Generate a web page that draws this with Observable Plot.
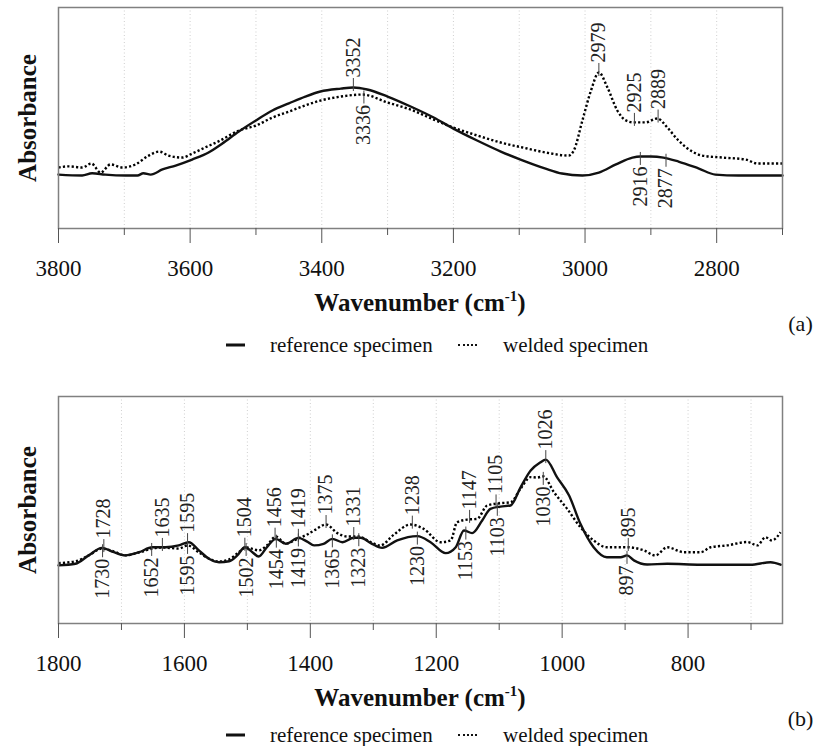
<!DOCTYPE html>
<html><head><meta charset="utf-8">
<script src="https://cdn.jsdelivr.net/npm/d3@7"></script>
<script src="https://cdn.jsdelivr.net/npm/@observablehq/plot@0.6"></script>
<style>
html,body{margin:0;padding:0;background:#fff;overflow:hidden}
body{width:818px;height:746px;font-family:'Liberation Serif','Tinos','Times New Roman','DejaVu Serif',serif;color:#111}
svg{display:block}
.legend{position:relative;white-space:nowrap;font-size:21px;color:#111;overflow:visible}
.legend span{position:absolute;top:50%;transform:translateY(-50%)}
.sw-solid{height:0;border-top:3px solid #111}
.sw-dot{height:0;border-top:2px dotted #111}
</style></head><body><div id="chart"></div>
<script>
// ---- Panel (a): 3800–2700 cm-1 ----
const wnRefA = [3800,3764,3749,3729,3698,3680,3671,3660,3642,3622,3597,3572,3551,3526,3500,3475,3450,3425,3402,3371,3352,3331,3300,3265,3230,3200,3164,3128,3098,3060,3035,3004,2979,2953,2928,2916,2900,2881,2858,2827,2802,2767,2700];
const absRefA = [0.244,0.240,0.250,0.244,0.240,0.240,0.250,0.244,0.267,0.285,0.312,0.344,0.385,0.439,0.489,0.534,0.566,0.597,0.620,0.633,0.638,0.629,0.597,0.552,0.502,0.452,0.398,0.348,0.312,0.271,0.249,0.240,0.253,0.290,0.321,0.326,0.326,0.321,0.303,0.271,0.244,0.240,0.240];
const wnWeldA = [3800,3785,3764,3750,3736,3721,3703,3683,3663,3647,3633,3612,3597,3577,3557,3526,3500,3475,3450,3425,3402,3371,3338,3300,3265,3230,3200,3164,3128,3088,3060,3025,3017,3004,2991,2979,2966,2951,2938,2926,2908,2890,2875,2858,2837,2822,2791,2756,2738,2700];
const absWeldA = [0.276,0.281,0.276,0.294,0.253,0.290,0.276,0.290,0.330,0.348,0.330,0.321,0.339,0.367,0.394,0.443,0.466,0.502,0.529,0.557,0.579,0.597,0.606,0.570,0.538,0.493,0.457,0.421,0.389,0.362,0.344,0.330,0.353,0.489,0.624,0.706,0.638,0.534,0.489,0.480,0.480,0.498,0.457,0.398,0.348,0.330,0.321,0.312,0.294,0.294];
const peakWnA = [3352,3336,2979,2925,2889,2916,2877];
const peakSeriesA = ["ref","weld","weld","weld","weld","ref","ref"];
const peakSideA = ["above","below","above","above","above","below","below"];
const majorTicksA = [3800,3600,3400,3200,3000,2800];
const minorTicksA = [3700,3500,3300,3100,2900,2700];
const gridA = [3700,3600,3500,3400,3300,3200,3100,3000,2900,2800];

// ---- Panel (b): 1800–650 cm-1 ----
const wnRefB = [1800,1773,1752,1731,1712,1694,1672,1651,1630,1609,1593,1577,1561,1545,1529,1516,1504,1492,1482,1469,1455,1439,1419,1405,1394,1379,1365,1349,1331,1320,1304,1286,1262,1230,1209,1185,1169,1156,1143,1127,1114,1098,1082,1066,1050,1035,1026,1008,989,971,950,929,907,897,886,865,833,780,701,669,653];
const absRefB = [0.256,0.263,0.300,0.333,0.314,0.300,0.314,0.336,0.336,0.344,0.358,0.322,0.285,0.270,0.274,0.300,0.336,0.314,0.295,0.336,0.373,0.351,0.377,0.361,0.344,0.351,0.373,0.358,0.378,0.378,0.354,0.333,0.366,0.385,0.358,0.310,0.336,0.410,0.398,0.454,0.505,0.515,0.520,0.600,0.674,0.709,0.722,0.644,0.564,0.439,0.336,0.292,0.292,0.300,0.278,0.260,0.263,0.259,0.259,0.270,0.259];
const wnWeldB = [1800,1773,1752,1731,1712,1694,1672,1651,1635,1609,1595,1577,1561,1545,1529,1516,1502,1492,1482,1469,1455,1439,1420,1405,1394,1375,1357,1341,1323,1304,1289,1267,1241,1220,1193,1177,1167,1150,1135,1119,1098,1082,1066,1050,1040,1030,1013,992,971,950,929,897,870,852,833,807,780,764,738,706,690,677,667,653];
const absWeldB = [0.266,0.274,0.300,0.330,0.317,0.300,0.313,0.330,0.335,0.330,0.344,0.313,0.286,0.273,0.282,0.308,0.335,0.329,0.322,0.344,0.383,0.352,0.374,0.392,0.410,0.436,0.398,0.383,0.383,0.358,0.344,0.392,0.436,0.417,0.358,0.366,0.446,0.458,0.461,0.520,0.530,0.534,0.594,0.645,0.643,0.648,0.578,0.505,0.424,0.366,0.336,0.336,0.322,0.300,0.336,0.314,0.314,0.336,0.344,0.359,0.344,0.380,0.366,0.402];
const peakWnB = [1728,1635,1595,1504,1456,1419,1375,1331,1238,1147,1105,1026,895,1730,1652,1595,1502,1454,1419,1365,1323,1230,1153,1103,1030,897];
const peakSeriesB = ["ref","weld","ref","ref","weld","weld","weld","weld","weld","weld","weld","ref","weld","weld","ref","weld","weld","ref","ref","ref","ref","ref","ref","ref","weld","ref"];
const peakSideB = ["above","above","above","above","above","above","above","above","above","above","above","above","above","below","below","below","below","below","below","below","below","below","below","below","below","below"];
const majorTicksB = [1800,1600,1400,1200,1000,800];
const minorTicksB = [1700,1500,1300,1100,900,700];
const gridB = [1700,1600,1500,1400,1300,1200,1100,1000,900,800,700];

const seriesNames = ["reference specimen", "welded specimen"];
const FONT = "'Liberation Serif','Tinos','Times New Roman','DejaVu Serif',serif";

function interp(W, A, x) {
  for (let i = 0; i < W.length - 1; i++) {
    if ((W[i] - x) * (W[i + 1] - x) <= 0) {
      const t = (x - W[i]) / (W[i + 1] - W[i]);
      return A[i] + t * (A[i + 1] - A[i]);
    }
  }
  return A[A.length - 1];
}

function panel(o) {
  const ref = o.refW.map((w, i) => ({w, a: o.refA[i]}));
  const wld = o.wldW.map((w, i) => ({w, a: o.wldA[i]}));
  const px = 1 / o.innerH;
  const pk = o.pw.map((w, i) => {
    const a = o.ps[i] === "ref" ? interp(o.refW, o.refA, w) : interp(o.wldW, o.wldA, w);
    const up = o.side[i] === "above";
    return {w, a, up, y1: a + (up ? -4 : 4) * px, y2: a + (up ? 9 : -9) * px, label: String(w)};
  });
  const marginBottom = o.height - o.marginTop - o.innerH;
  const svg = Plot.plot({
    width: 818, height: o.height, marginTop: o.marginTop, marginBottom,
    marginLeft: 58, marginRight: 36,
    x: {domain: o.domain, axis: null, label: null},
    y: {domain: [0, 1], axis: null, label: null},
    style: {fontFamily: FONT, background: "#fff", overflow: "visible", color: "#111"},
    marks: [
      Plot.gridX(o.grid, {stroke: "#cfcfcf", strokeOpacity: 1, strokeWidth: 1, strokeDasharray: "1,2.5"}),
      Plot.line(wld, {x: "w", y: "a", stroke: "#000", strokeWidth: 2.4, strokeDasharray: "2.2,2.2", strokeLinecap: "butt", curve: "monotone-x"}),
      Plot.line(ref, {x: "w", y: "a", stroke: "#111", strokeWidth: 2.4, curve: "monotone-x"}),
      Plot.ruleX(pk, {x: "w", y1: "y1", y2: "y2", stroke: "#444", strokeWidth: 1}),
      Plot.text(pk.filter(d => d.up), {x: "w", y: "a", text: "label", rotate: -90, textAnchor: "start", lineAnchor: "middle", dy: -10, fontSize: 20, fill: "#222", fontFamily: FONT}),
      Plot.text(pk.filter(d => !d.up), {x: "w", y: "a", text: "label", rotate: -90, textAnchor: "end", lineAnchor: "middle", dy: 10, fontSize: 20, fill: "#222", fontFamily: FONT}),
      Plot.frame({stroke: "#808080", strokeWidth: 1.5}),
      Plot.axisX(o.major, {tickSize: 15, tickPadding: 16, fontSize: 23, stroke: "#555", fill: "#111", label: null, fontFamily: FONT, tickFormat: d => String(d)}),
      Plot.axisX(o.minor, {tickSize: 7, stroke: "#555", label: null, tickFormat: () => ""}),
      Plot.text(["Absorbance"], {frameAnchor: "left", dx: -31, rotate: -90, textAnchor: "middle", lineAnchor: "middle", fontSize: 25, fontWeight: "bold", fill: "#111", fontFamily: FONT}),
      Plot.text([o.tag], {frameAnchor: "bottom-right", dx: 18, dy: 95, textAnchor: "middle", lineAnchor: "middle", fontSize: 22, fill: "#111", fontFamily: FONT})
    ]
  });
  const t = d3.select(svg).append("text")
    .attr("x", 420).attr("y", o.marginTop + o.innerH + 83)
    .attr("text-anchor", "middle").attr("font-size", 25).attr("font-weight", "bold")
    .style("font-family", FONT).attr("fill", "#111");
  t.append("tspan").text("Wavenumber (cm");
  t.append("tspan").attr("font-size", 15).attr("dy", -10).text("-1");
  t.append("tspan").attr("dy", 10).text(")");
  return svg;
}

function legend(h) {
  const div = document.createElement("div");
  div.className = "legend";
  div.style.height = h + "px";
  div.innerHTML =
    `<span class="sw-solid" style="left:226px;width:19px"></span>` +
    `<span style="left:270px">${seriesNames[0]}</span>` +
    `<span class="sw-dot" style="left:458px;width:19px"></span>` +
    `<span style="left:503px">${seriesNames[1]}</span>`;
  return div;
}

const root = document.getElementById("chart");
root.appendChild(panel({refW: wnRefA, refA: absRefA, wldW: wnWeldA, wldA: absWeldA, pw: peakWnA, ps: peakSeriesA, side: peakSideA,
  domain: [3800, 2700], major: majorTicksA, minor: minorTicksA, grid: gridA, tag: "(a)", marginTop: 7, innerH: 221, height: 333}));
root.appendChild(legend(24));
root.appendChild(panel({refW: wnRefB, refA: absRefB, wldW: wnWeldB, wldA: absWeldB, pw: peakWnB, ps: peakSeriesB, side: peakSideB,
  domain: [1800, 650], major: majorTicksB, minor: minorTicksB, grid: gridB, tag: "(b)", marginTop: 39, innerH: 227, height: 371}));
root.appendChild(legend(14));
</script>
</body></html>
